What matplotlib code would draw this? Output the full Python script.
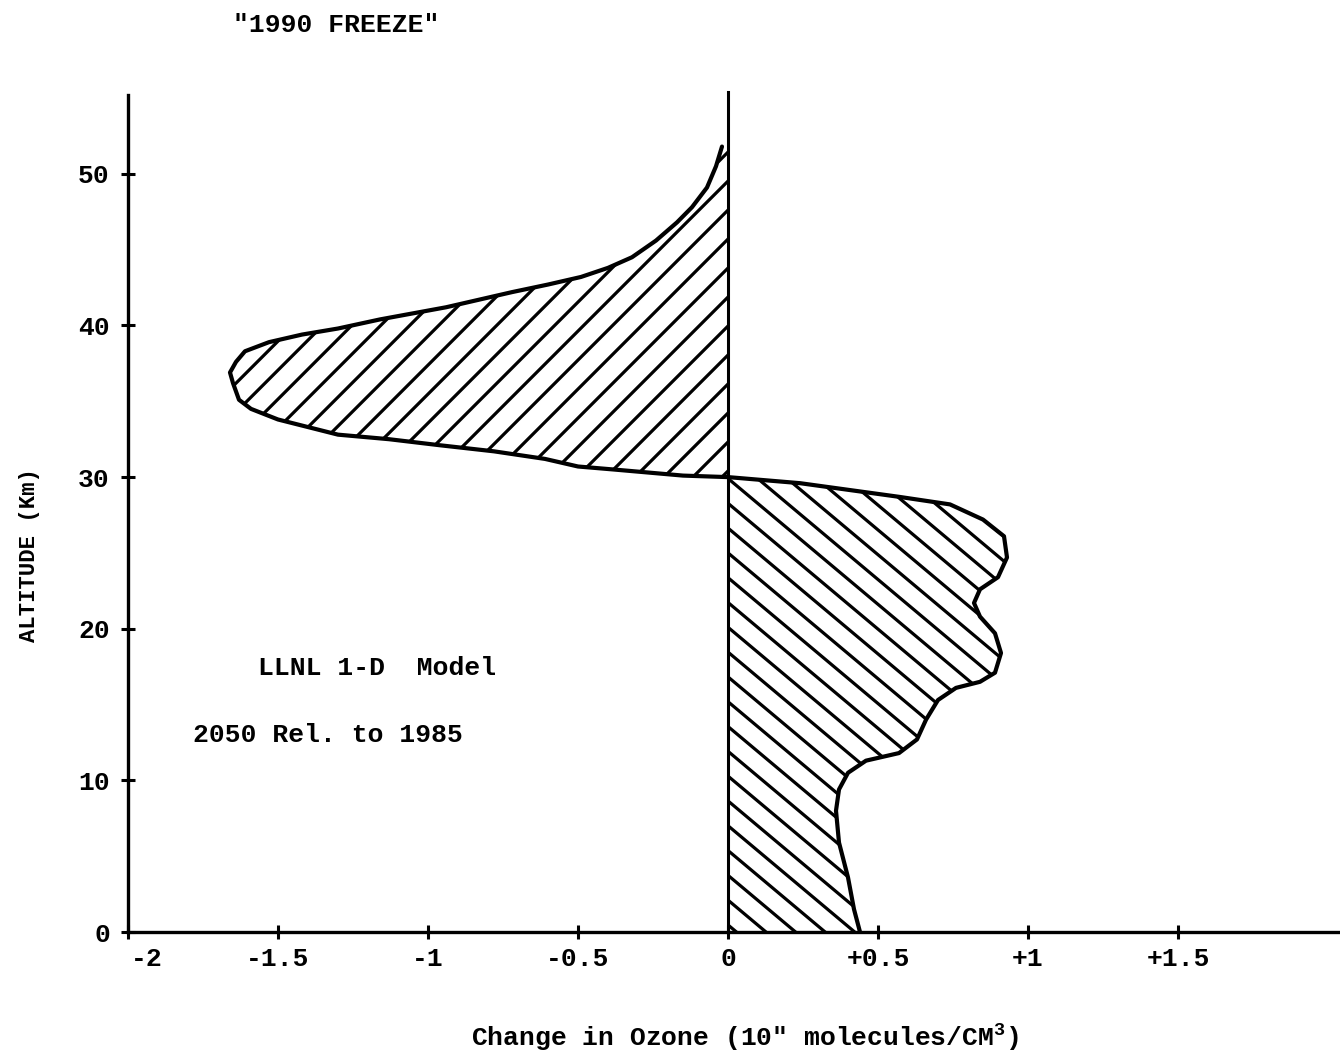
import numpy as np
import matplotlib
matplotlib.use("Agg")
import matplotlib.pyplot as plt
from matplotlib.patches import Polygon
from matplotlib.collections import LineCollection
from matplotlib.transforms import ScaledTranslation

# upper lobe (ozone loss), read from top to bottom
neg_alt = [51.8, 50.5, 49.1, 47.8, 46.8, 45.6, 44.5, 43.8, 43.2, 42.7, 42.2,
           41.7, 41.2, 40.8, 40.4, 39.8, 39.4, 38.9, 38.3, 37.6, 36.9, 36.2,
           35.1, 34.5, 33.8, 32.8, 32.5, 32.1, 31.7, 31.2, 30.7, 30.5, 30.1,
           30.0]
neg_change = [-0.02, -0.04, -0.07, -0.12, -0.17, -0.24, -0.32, -0.40, -0.49,
              -0.60, -0.72, -0.83, -0.94, -1.05, -1.16, -1.30, -1.42, -1.53,
              -1.61, -1.64, -1.66, -1.65, -1.63, -1.59, -1.50, -1.30, -1.13,
              -0.96, -0.78, -0.61, -0.50, -0.38, -0.15, 0.0]

# lower lobe (ozone gain), read from top to bottom
pos_alt = [30.0, 29.6, 29.0, 28.7, 28.2, 27.2, 26.1, 24.7, 23.4, 22.6, 21.7,
           20.8, 19.7, 18.4, 17.1, 16.5, 16.1, 15.3, 14.0, 12.7, 11.8, 11.3,
           10.5, 9.4, 8.0, 5.9, 3.6, 1.5, 0.0]
pos_change = [0.0, 0.24, 0.46, 0.57, 0.74, 0.85, 0.92, 0.93, 0.90, 0.84, 0.82,
              0.84, 0.89, 0.91, 0.89, 0.84, 0.76, 0.70, 0.66, 0.63, 0.57, 0.46,
              0.40, 0.37, 0.36, 0.37, 0.40, 0.42, 0.44]

x_ticks = [-2, -1.5, -1, -0.5, 0, 0.5, 1, 1.5]
x_tick_labels = ["-2", "-1.5", "-1", "-0.5", "0", "+0.5", "+1", "+1.5"]
y_ticks = [0, 10, 20, 30, 40, 50]

plt.rcParams["font.family"] = ["Liberation Mono", "DejaVu Sans Mono"]
plt.rcParams["font.weight"] = "bold"
plt.rcParams["axes.unicode_minus"] = False
plt.rcParams["mathtext.fontset"] = "custom"
plt.rcParams["mathtext.rm"] = "Liberation Mono:bold"
plt.rcParams["mathtext.default"] = "rm"

FS = 19

fig = plt.figure(figsize=(13.4, 10.58), dpi=100)
ax = fig.add_axes([128 / 1340, 1 - 932 / 1058, 1 - 128 / 1340, (932 - 95) / 1058])
ax.set_xlim(-2, 2.04)
ax.set_ylim(0, 55.2)


def hatch(patch, angle, spacing, lw=2.3):
    """Draw sparse hand-drawn style hatching clipped to a patch (inches)."""
    W, H = fig.get_size_inches()
    a = np.radians(angle)
    u = np.array([np.cos(a), np.sin(a)])
    n = np.array([-np.sin(a), np.cos(a)])
    c = np.array([W / 2, H / 2])
    L = np.hypot(W, H)
    segs = []
    for k in range(-int(L / spacing) - 1, int(L / spacing) + 2):
        p = c + k * spacing * n
        segs.append([p - L * u, p + L * u])
    lc = LineCollection(segs, colors="black", linewidths=lw,
                        transform=fig.dpi_scale_trans, capstyle="round")
    ax.add_collection(lc, autolim=False)
    lc.set_clip_path(patch)


# shaded lobes
neg_poly = Polygon(list(zip(neg_change, neg_alt)) + [(0, neg_alt[-1]), (0, neg_alt[0])],
                   closed=True, facecolor="none", edgecolor="none")
pos_poly = Polygon(list(zip(pos_change, pos_alt)) + [(0, 0), (0, pos_alt[0])],
                   closed=True, facecolor="none", edgecolor="none")
ax.add_patch(neg_poly)
ax.add_patch(pos_poly)
hatch(neg_poly, 45, 0.205)
hatch(pos_poly, -40, 0.19)

ax.plot(neg_change, neg_alt, color="black", lw=3, solid_capstyle="round",
        solid_joinstyle="round")
ax.plot(pos_change, pos_alt, color="black", lw=3, solid_capstyle="round",
        solid_joinstyle="round")
ax.plot([0, 0], [0, 55.4], color="black", lw=2.2, clip_on=False)

# axes styling
for s in ["top", "right"]:
    ax.spines[s].set_visible(False)
for s in ["left", "bottom"]:
    ax.spines[s].set_linewidth(2.4)
ax.set_xticks(x_ticks)
ax.set_xticklabels(x_tick_labels, fontsize=FS, fontweight="bold")
ax.set_yticks(y_ticks)
ax.set_yticklabels([str(v) for v in y_ticks], fontsize=FS, fontweight="bold")
ax.tick_params(direction="inout", length=10, width=2.2, pad=6)
ax.tick_params(axis="y", pad=8)
# the "-2" label sits a little right of the corner
lbl = ax.get_xticklabels()[0]
lbl.set_transform(lbl.get_transform() + ScaledTranslation(0.19, 0, fig.dpi_scale_trans))

ax.text(-1.567, 17.4, "LLNL 1-D  Model", fontsize=FS, ha="left", va="center")
ax.text(-1.783, 13.0, "2050 Rel. to 1985", fontsize=FS, ha="left", va="center")

fig.text(233 / 1340, 1 - 25 / 1058, '"1990 FREEZE"', fontsize=FS,
         ha="left", va="center")
fig.text(30 / 1340, 1 - 555 / 1058, "ALTITUDE (Km)", fontsize=16,
         rotation=90, ha="center", va="center")
fig.text(745 / 1340, 1 - 1038 / 1058, 'Change in Ozone (10" molecules/CM$^{3}$)',
         fontsize=FS, ha="center", va="center")

fig.savefig("out.png", dpi=100)
